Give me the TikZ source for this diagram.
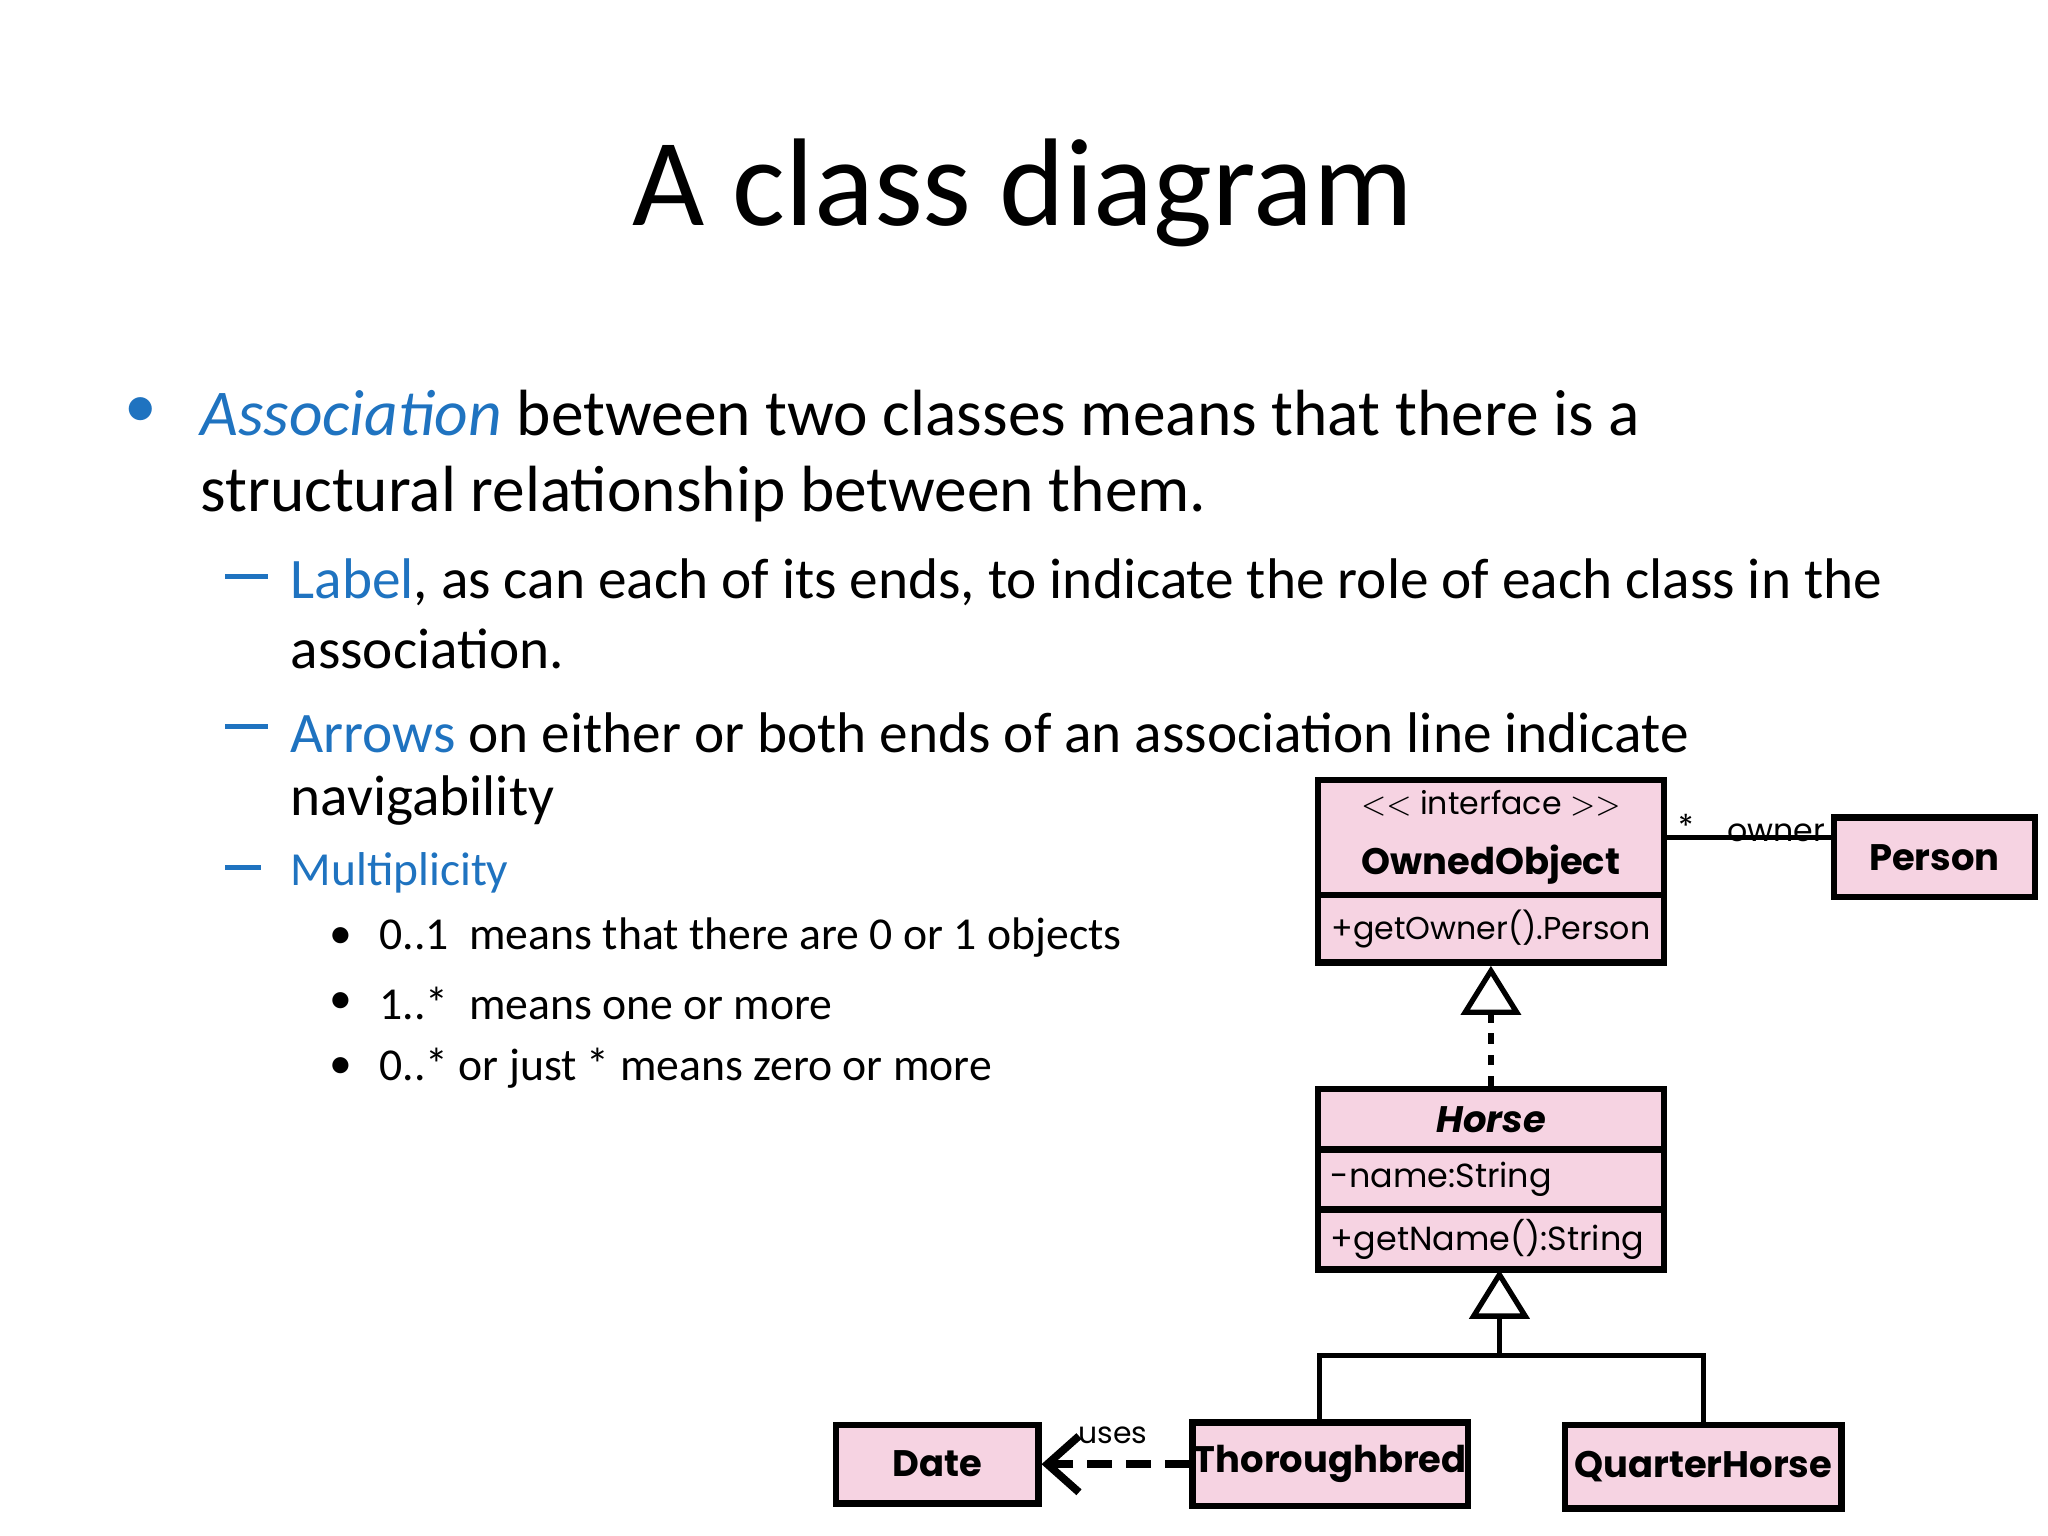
\documentclass[tikz,border=0pt]{standalone}
\usepackage{fontspec}
\setmainfont{Carlito}
\newfontfamily\umlfont{Poppins}
\usetikzlibrary{arrows.meta,positioning}
\definecolor{mblue}{HTML}{1F73C0}
\definecolor{upink}{HTML}{F6D3E2}
\tikzset{
  cls/.style={draw=black,line width=1.8pt,fill=upink,inner sep=0pt,font=\umlfont},
  txt/.style={anchor=west,inner sep=0pt},
  conn/.style={line width=1.5pt},
}
\newcommand{\mydash}{\rule[0.22em]{0.75em}{1.3pt}}
\begin{document}
\begin{tikzpicture}[x=0.01306cm,y=-0.01306cm]
\useasboundingbox[fill=white] (0,0) rectangle (1568,1176);
\node[font=\fontsize{35.5}{40}\selectfont] (title) at (783,148) {A class diagram};
% bullets
\node[txt,text=mblue,font=\fontsize{18.6}{22}\selectfont] (b1) at (95,316) {•};
\node[txt,font=\fontsize{18.6}{22}\selectfont] (t1) at (153,316) {\textcolor{mblue}{\itshape Association} between two classes means that there is a};
\node[txt,font=\fontsize{18.6}{22}\selectfont] (t1b) at (153,378) {structural relationship between them.};
\node[txt,text=mblue,font=\fontsize{16.3}{20}\selectfont] (d1) at (172,446) {\mydash};
\node[txt,font=\fontsize{16.3}{20}\selectfont] (t2) at (222,446) {\textcolor{mblue}{Label}, as can each of its ends, to indicate the role of each class in the};
\node[txt,font=\fontsize{16.3}{20}\selectfont] (t2b) at (222,497) {association.};
\node[txt,text=mblue,font=\fontsize{16.3}{20}\selectfont] (d2) at (172,561) {\mydash};
\node[txt,font=\fontsize{16.3}{20}\selectfont] (t3) at (222,561) {\textcolor{mblue}{Arrows} on either or both ends of an association line indicate};
\node[txt,font=\fontsize{16.3}{20}\selectfont] (t3b) at (222,613) {navigability};
\node[txt,text=mblue,font=\fontsize{13.5}{17}\selectfont] (d3) at (172,668) {\mydash};
\node[txt,text=mblue,font=\fontsize{13.5}{17}\selectfont] (t4) at (222,668) {Multiplicity};
\foreach \y/\s [count=\i] in {718/{0..1\ \ means that there are 0 or 1 objects},768/{1..*\ \ means one or more},818/{0..* or just * means zero or more}}{
  \node[txt,font=\fontsize{13}{16}\selectfont] (m\i) at (252,\y) {•};
  \node[txt,font=\fontsize{13}{16}\selectfont] (mt\i) at (290,\y) {\s};
}
% UML boxes
\node[cls,minimum width=265*0.01306cm,minimum height=88*0.01306cm,align=center] (oo) at (1141.5,641) {\fontsize{9}{11}\selectfont $<<$ interface $>>$\\[5pt]\fontsize{10.5}{13}\selectfont\bfseries OwnedObject};
\node[cls,minimum width=265*0.01306cm,minimum height=52*0.01306cm,font=\umlfont\fontsize{9}{11}\selectfont] (oo2) at (1141.5,711) {+getOwner().Person};
\node[cls,minimum width=154*0.01306cm,minimum height=61*0.01306cm,font=\umlfont\bfseries\fontsize{10.5}{13}\selectfont] (person) at (1481,656.5) {Person};
\node[cls,minimum width=265*0.01306cm,minimum height=46*0.01306cm,font=\umlfont\bfseries\itshape\fontsize{10.5}{13}\selectfont] (horse) at (1141.5,857) {Horse};
\node[cls,minimum width=265*0.01306cm,minimum height=46*0.01306cm,font=\umlfont\fontsize{9.5}{11}\selectfont,text width=245*0.01306cm,align=left] (h2) at (1141.5,903) {-name:String};
\node[cls,minimum width=265*0.01306cm,minimum height=46*0.01306cm,font=\umlfont\fontsize{9.5}{11}\selectfont,text width=245*0.01306cm,align=left] (h3) at (1141.5,949) {+getName():String};
\node[cls,minimum width=155*0.01306cm,minimum height=60*0.01306cm,font=\umlfont\bfseries\fontsize{10.5}{13}\selectfont] (date) at (717.5,1121) {Date};
\node[cls,minimum width=211*0.01306cm,minimum height=64*0.01306cm,font=\umlfont\bfseries\fontsize{10.5}{13}\selectfont] (tb) at (1018.5,1121) {Thoroughbred};
\node[cls,minimum width=212*0.01306cm,minimum height=64*0.01306cm,font=\umlfont\bfseries\fontsize{10.5}{13}\selectfont] (qh) at (1304,1123) {QuarterHorse};
% connectors
\draw[conn] (oo.east) -- (oo.east -| person.west);
\node[font=\umlfont\fontsize{9}{11}\selectfont] (star) at (1291,632) {*};
\node[font=\umlfont\fontsize{9}{11}\selectfont] (own) at (1360,638) {owner};
\draw[conn,dashed,-{Triangle[open,length=14pt,width=17pt]}] (horse.north) -- (horse.north |- oo2.south);
\coordinate (junc) at (1148,1038);
\draw[conn,-{Triangle[open,length=14pt,width=17pt]}] (junc) -- (1148,972);
\coordinate (jl) at (1010,1038);
\coordinate (jr) at (1304,1038);
\draw[conn] (jl |- tb.north) -- (jl) -- (jr) -- (qh.north);
\draw[line width=2.2pt,dash pattern=on 7pt off 4pt,-{Straight Barb[length=9pt,width=16pt]}] (tb.west) -- (date.east);
\node[font=\umlfont\fontsize{8.5}{10}\selectfont] (uses) at (852,1099) {uses};
\end{tikzpicture}
\end{document}
